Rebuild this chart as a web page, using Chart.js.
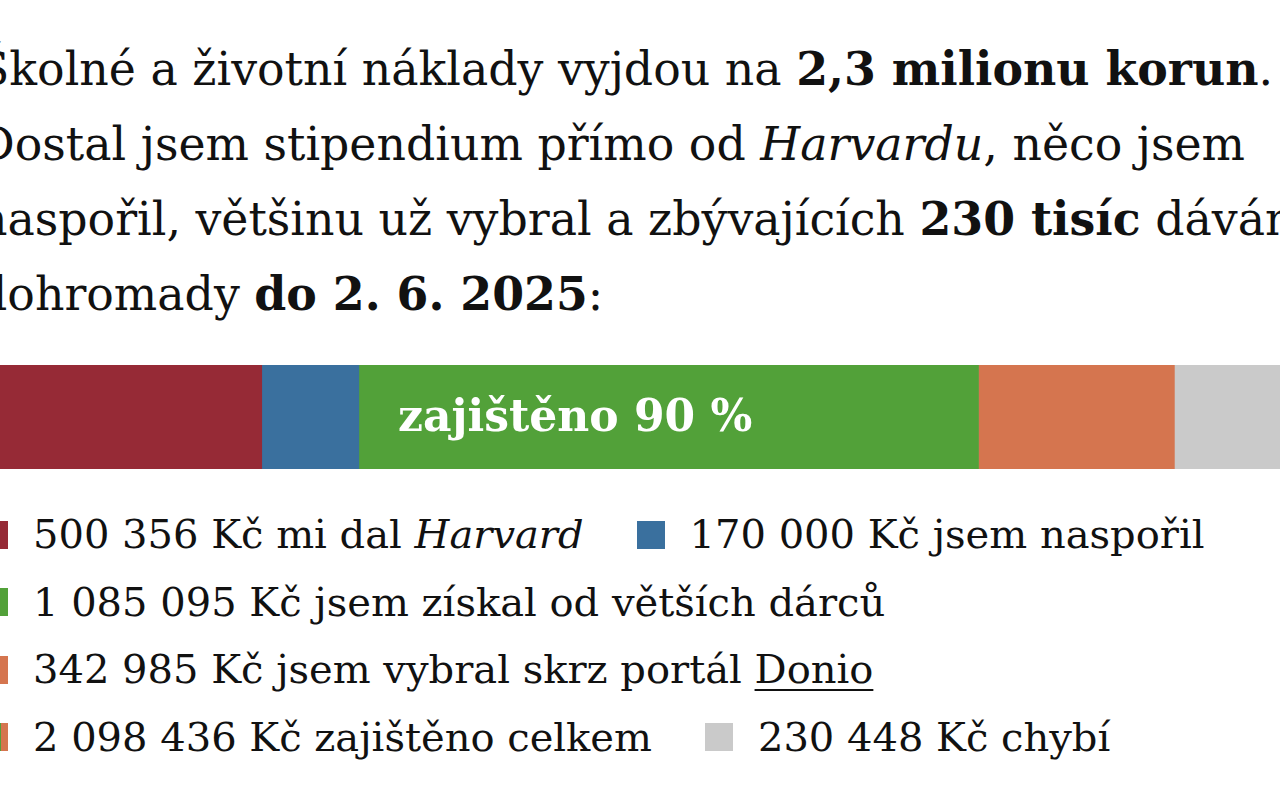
<!DOCTYPE html>
<html lang="cs">
<head>
<meta charset="utf-8">
<script src="https://cdn.jsdelivr.net/npm/chart.js@4.4.1/dist/chart.umd.min.js"></script>
<style>
  html, body { margin: 0; padding: 0; background: #fff; }
  body { width: 1280px; height: 800px; overflow: hidden; position: relative;
         font-family: "DejaVu Serif", serif; color: #111; }
  #intro { position: absolute; left: -22px; top: 32px; font-size: 45.8px; line-height: 75px; white-space: nowrap; margin: 0; }
  #intro b { font-weight: bold; }
  #barBox { position: absolute; left: -24px; top: 365px; width: 1330px; height: 104px; }
  #legend { position: absolute; left: -20px; top: 501px; width: 1300px; display: flex; flex-wrap: wrap; column-gap: 53px;
            font-size: 40px; line-height: 67.5px; white-space: nowrap; }
  .item { display: flex; align-items: center; }
  .box { width: 28px; height: 28px; margin-right: 25px; flex: none; }
  .item u { text-underline-offset: 6px; text-decoration-thickness: 2px; }
</style>
</head>
<body>
<p id="intro">Školné a životní náklady vyjdou na <b>2,3 milionu korun</b>.<br>Dostal jsem stipendium přímo od <i>Harvardu</i>, něco jsem<br>naspořil, většinu už vybral a zbývajících <b>230 tisíc</b> dávám<br>dohromady <b>do 2. 6. 2025</b>:</p>
<div id="barBox"><canvas id="bar"></canvas></div>
<div id="legend"></div>
<script>
// data (Kč)
const sources = ['Harvard', 'úspory', 'větší dárci', 'Donio', 'chybí'];
const amounts = [500356, 170000, 1085095, 342985, 230448];
const descriptions = ['mi dal Harvard', 'jsem naspořil', 'jsem získal od větších dárců', 'jsem vybral skrz portál Donio', 'chybí'];
const colors = ['#962a36', '#3a709e', '#52a139', '#d5754f', '#cacaca'];
const securedCount = 4; // first four are secured, the last one is missing

const total = amounts.reduce((a, b) => a + b, 0);
const secured = amounts.slice(0, securedCount).reduce((a, b) => a + b, 0);

function kc(n) { // 2098436 -> "2 098 436"
    return String(n).replace(/\B(?=(\d{3})+(?!\d))/g, '\u00a0');
}

// label in the middle of the secured part
const securedLabel = {
    id: 'securedLabel',
    afterDatasetsDraw(chart) {
        const ctx = chart.ctx;
        const x = chart.scales.x.getPixelForValue(secured / 2);
        const y = (chart.chartArea.top + chart.chartArea.bottom) / 2 + 3;
        ctx.save();
        ctx.fillStyle = '#fff';
        ctx.font = 'bold 44px "DejaVu Serif", serif';
        ctx.textAlign = 'center';
        ctx.textBaseline = 'middle';
        ctx.fillText('zajištěno ' + Math.round(secured / total * 100) + '\u00a0%', x, y);
        ctx.restore();
    }
};

new Chart(document.getElementById('bar'), {
    type: 'bar',
    data: {
        labels: [''],
        datasets: sources.map((s, i) => ({
            label: s,
            data: [amounts[i]],
            backgroundColor: colors[i],
            borderWidth: 0,
            barPercentage: 1,
            categoryPercentage: 1
        }))
    },
    options: {
        indexAxis: 'y',
        maintainAspectRatio: false,
        animation: false,
        layout: { padding: 0 },
        scales: {
            x: { stacked: true, display: false, min: 0, max: total },
            y: { stacked: true, display: false }
        },
        plugins: {
            legend: { display: false },
            tooltip: { enabled: false }
        }
    },
    plugins: [securedLabel]
});

// legend (html, because of the italic / underlined words)
function rich(text) {
    return text.replace('Harvard', '<i>Harvard</i>').replace('Donio', '<u>Donio</u>');
}
const legend = document.getElementById('legend');
const items = amounts.map((v, i) => ({ swatch: colors[i], text: kc(v) + '\u00a0Kč ' + rich(descriptions[i]) }));
const stops = colors.slice(0, securedCount).map((c, i) =>
    c + ' ' + (i * 25) + '% ' + ((i + 1) * 25) + '%').join(', ');
items.splice(securedCount, 0, { swatch: 'linear-gradient(to right, ' + stops + ')', text: kc(secured) + '\u00a0Kč zajištěno celkem' });
items.forEach(it => {
    const el = document.createElement('div');
    el.className = 'item';
    el.innerHTML = '<span class="box" style="background:' + it.swatch + '"></span><span>' + it.text + '</span>';
    legend.appendChild(el);
});
</script>
</body>
</html>
